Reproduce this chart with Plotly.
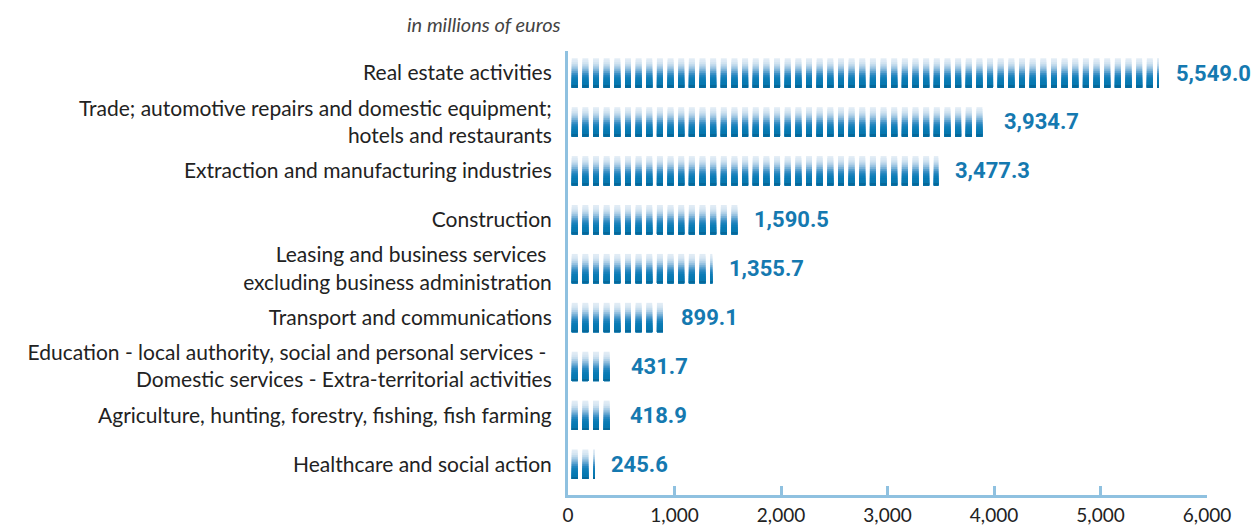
import plotly.graph_objects as go

# Value added by sector, in millions of euros
categories = [
    "Real estate activities",
    "Trade; automotive repairs and domestic equipment;<br>hotels and restaurants",
    "Extraction and manufacturing industries",
    "Construction",
    "Leasing and business services <br>excluding business administration",
    "Transport and communications",
    "Education - local authority, social and personal services - <br>Domestic services - Extra-territorial activities",
    "Agriculture, hunting, forestry, fishing, fish farming",
    "Healthcare and social action",
]
values = [5549.0, 3934.7, 3477.3, 1590.5, 1355.7, 899.1, 431.7, 418.9, 245.6]
x_ticks = [0, 1000, 2000, 3000, 4000, 5000, 6000]
x_tick_labels = ["0", "1,000", "2,000", "3,000", "4,000", "5,000", "6,000"]

# Stripe geometry (data units along x): each 100-unit step holds one stripe
STEP = 100.0
STRIPE_START = 35.0
STRIPE_END = 91.0

# Vertical gradient of the stripes, top to bottom
band_colors = [
    "#e1ecf5", "#dce9f4", "#d3e4f1", "#c3dbed", "#aecfe7", "#95c1e0",
    "#79b1d7", "#5aa1cf", "#3d91c6", "#2586bf", "#1580ba", "#0c7cb6",
    "#087ab3", "#0778b1", "#0677ae", "#06689a",
]
BAR_W = 0.6

starts, lengths, cats = [], [], []
for cat, v in zip(categories, values):
    k = 0
    while STRIPE_START + k * STEP < v:
        s = STRIPE_START + k * STEP
        e = min(STRIPE_END + k * STEP, v)
        starts.append(s)
        lengths.append(e - s)
        cats.append(cat)
        k += 1

fig = go.Figure()
n = len(band_colors)
band_h = BAR_W / n
for j, col in enumerate(band_colors):
    # each band reaches down to the bar bottom; later (darker) bands paint over it
    fig.add_trace(go.Bar(
        orientation="h",
        y=cats,
        x=lengths,
        base=starts,
        width=BAR_W - j * band_h,
        offset=-BAR_W / 2 + j * band_h,
        marker=dict(color=col, line=dict(width=0)),
        hoverinfo="skip",
        showlegend=False,
    ))

annotations = []
for cat, v in zip(categories, values):
    annotations.append(dict(
        x=v, y=cat, xref="x", yref="y",
        text=f"{v:,.1f}", showarrow=False,
        xanchor="left", yanchor="middle", xshift=15,
        font=dict(family="Roboto", size=22, color="#1579b0", weight="bold"),
    ))
annotations.append(dict(
    x=-0.131, y=1.06, xref="paper", yref="paper",
    text="<i>in millions of euros</i>", showarrow=False,
    xanchor="center", yanchor="middle",
    font=dict(family="Lato", size=20, color="#444444"),
))

axis_color = "#8fc1e0"
fig.update_layout(
    width=1256, height=526,
    margin=dict(l=568, r=49, t=51, b=31, autoexpand=False),
    paper_bgcolor="white", plot_bgcolor="white",
    barmode="overlay",
    annotations=annotations,
    xaxis=dict(
        range=[0, 6000], tickvals=x_ticks, ticktext=x_tick_labels,
        showgrid=False, zeroline=False, automargin=False,
        showline=True, linecolor=axis_color, linewidth=3,
        ticks="inside", ticklen=9, tickwidth=3, tickcolor=axis_color,
        ticklabelstandoff=1,
        tickfont=dict(family="Lato", size=19, color="#222222"),
        fixedrange=True,
    ),
    yaxis=dict(
        type="category", categoryorder="array", categoryarray=categories,
        range=[8.63, -0.45], automargin=False,
        showgrid=False, zeroline=False,
        showline=True, linecolor=axis_color, linewidth=3,
        ticks="", ticklabelstandoff=9,
        tickfont=dict(family="Lato", size=21, color="#222222"),
        fixedrange=True,
    ),
)

fig.write_html("out.html")
